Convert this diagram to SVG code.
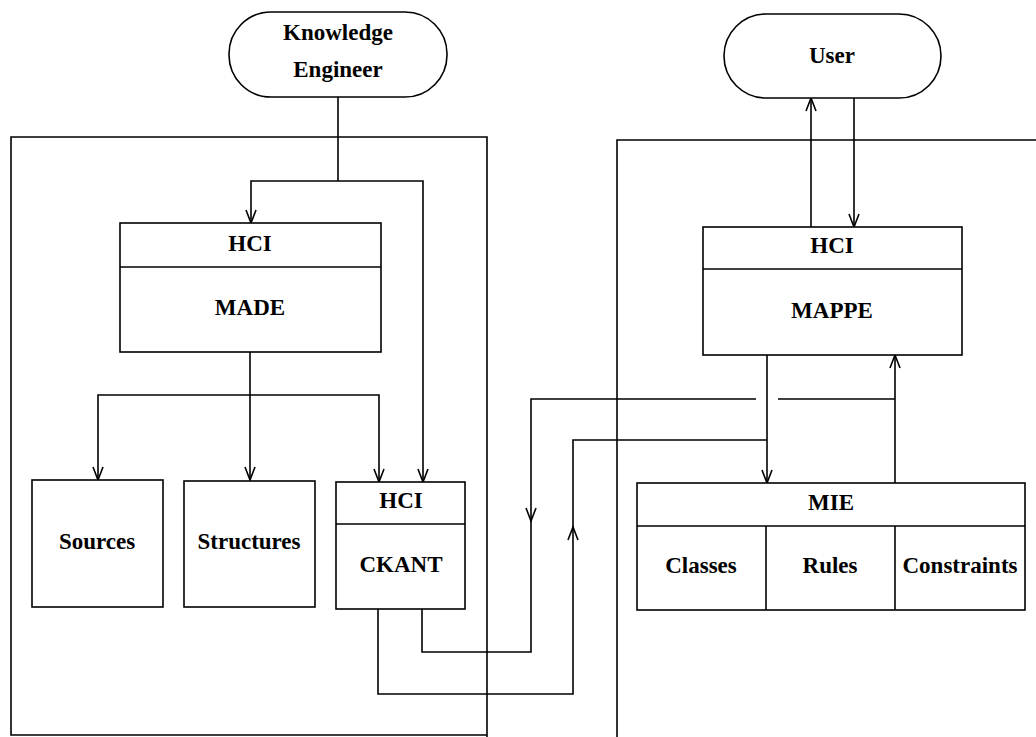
<svg xmlns="http://www.w3.org/2000/svg" width="1036" height="737" viewBox="0 0 1036 737">
<style>
.b{fill:#fff;stroke:#000;stroke-width:1.6}
.l{fill:none;stroke:#000;stroke-width:1.6}
.t{font-family:"Liberation Serif","Times New Roman",serif;font-weight:bold;font-size:23px;text-anchor:middle;fill:#000}
.a{marker-end:url(#arr)}
</style>
<defs>
<marker id="arr" viewBox="-1 -7 16 14" refX="13" refY="0" markerWidth="16" markerHeight="14" markerUnits="userSpaceOnUse" orient="auto">
<path d="M0,-5 L13,0 L0,5" fill="none" stroke="#000" stroke-width="1.6"/>
</marker>
</defs>
<rect width="1036" height="737" fill="#fff"/>
<g id="frames">
<path class="l" d="M487,737 L487,137 L11,137 L11,735 L487,735"/>
<path class="l" d="M1036,140 L617,140 L617,737"/>
</g>
<g id="connectors">
<path class="l" d="M338,97 L338,181"/>
<path class="l a" d="M338,181 L251,181 L251,223"/>
<path class="l a" d="M338,181 L423,181 L423,482"/>
<path class="l a" d="M250,352 L250,480"/>
<path class="l a" d="M250,395 L98,395 L98,480"/>
<path class="l a" d="M250,395 L379,395 L379,482"/>
<path class="l a" d="M811,227 L811,98"/>
<path class="l a" d="M854,98 L854,227"/>
<path class="l a" d="M767,355 L767,483"/>
<path class="l a" d="M895,483 L895,355"/>
<path class="l" d="M895,399 L778,399"/>
<path class="l a" d="M756,399 L531,399 L531,521"/>
<path class="l" d="M531,518 L531,652 L422,652 L422,609"/>
<path class="l a" d="M378,609 L378,694 L573,694 L573,527"/>
<path class="l" d="M573,530 L573,440 L767,440"/>
</g>
<g id="knowledge-engineer">
<rect class="b" x="229" y="12" width="218" height="85" rx="42" ry="42"/>
<text class="t" x="338" y="40">Knowledge</text>
<text class="t" x="338" y="77">Engineer</text>
</g>
<g id="user">
<rect class="b" x="724" y="14" width="217" height="84" rx="42" ry="42"/>
<text class="t" x="832" y="63">User</text>
</g>
<g id="made">
<rect class="b" x="120" y="223" width="261" height="129"/>
<line class="l" x1="120" y1="267" x2="381" y2="267"/>
<text class="t" x="250" y="251">HCI</text>
<text class="t" x="250" y="315">MADE</text>
</g>
<g id="mappe">
<rect class="b" x="703" y="227" width="259" height="128"/>
<line class="l" x1="703" y1="269" x2="962" y2="269"/>
<text class="t" x="832" y="253">HCI</text>
<text class="t" x="832" y="318">MAPPE</text>
</g>
<g id="sources">
<rect class="b" x="32" y="480" width="131" height="127"/>
<text class="t" x="97" y="549">Sources</text>
</g>
<g id="structures">
<rect class="b" x="184" y="481" width="131" height="126"/>
<text class="t" x="249" y="549">Structures</text>
</g>
<g id="ckant">
<rect class="b" x="336" y="482" width="129" height="127"/>
<line class="l" x1="336" y1="524" x2="465" y2="524"/>
<text class="t" x="401" y="508">HCI</text>
<text class="t" x="401" y="572">CKANT</text>
</g>
<g id="mie">
<rect class="b" x="637" y="483" width="388" height="127"/>
<line class="l" x1="637" y1="526" x2="1025" y2="526"/>
<line class="l" x1="766" y1="526" x2="766" y2="610"/>
<line class="l" x1="895" y1="526" x2="895" y2="610"/>
<text class="t" x="831" y="510">MIE</text>
<text class="t" x="701" y="573">Classes</text>
<text class="t" x="830" y="573">Rules</text>
<text class="t" x="960" y="573">Constraints</text>
</g>
</svg>
